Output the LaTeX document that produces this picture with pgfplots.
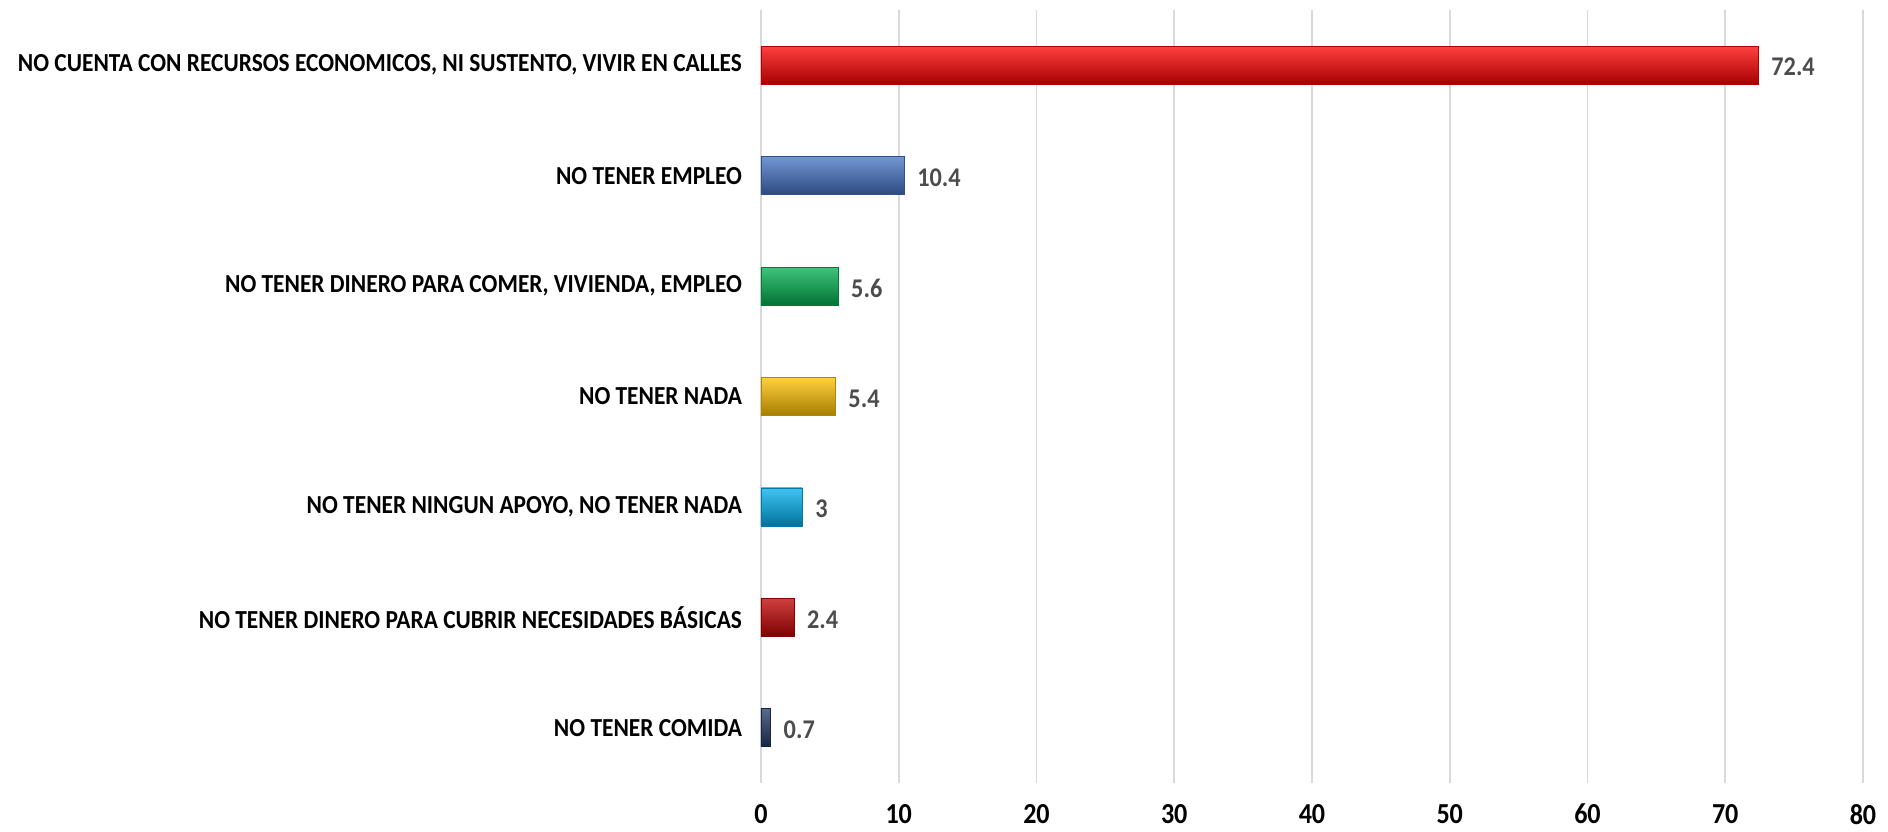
\documentclass[border=0pt]{standalone}
\usepackage{pgfplots}
\pgfplotsset{compat=1.18}
\usepackage{fontspec}
\setmainfont[FakeStretch=0.9]{Carlito}
\definecolor{cRed}{HTML}{FF0000}
\definecolor{cBlue}{HTML}{4472C4}
\definecolor{cGreen}{HTML}{00B050}
\definecolor{cGold}{HTML}{FFC000}
\definecolor{cCyan}{HTML}{00B0F0}
\definecolor{cDRed}{HTML}{C00000}
\definecolor{cNavy}{HTML}{203864}
\begin{document}
\begin{tikzpicture}
\useasboundingbox (-380.5pt,-24pt) rectangle (563.5pt,391.5pt);
\begin{axis}[at={(0,0)}, anchor=south west, scale only axis,
  width=551pt, height=386.5pt,
  xmin=0, xmax=80, ymin=-0.5, ymax=6.5,
  xtick={0,10,...,80}, ytick={0,...,6},
  yticklabels={NO TENER COMIDA, NO TENER DINERO PARA CUBRIR NECESIDADES BÁSICAS, {NO TENER NINGUN APOYO, NO TENER NADA}, NO TENER NADA, {NO TENER DINERO PARA COMER, VIVIENDA, EMPLEO}, NO TENER EMPLEO, {NO CUENTA CON RECURSOS ECONOMICOS, NI SUSTENTO, VIVIR EN CALLES}},
  xmajorgrids, grid style={draw=black!15, line width=0.8pt},
  axis line style={draw=none}, major tick length=0pt,
  ticklabel style={font=\fontsize{13}{14}\selectfont\bfseries, text=black},
  xticklabel style={font=\fontsize{14.5}{15}\selectfont\bfseries, yshift=-7pt},
  /pgf/number format/assume math mode=true,
  yticklabel style={xshift=-6pt},
  xbar, bar width=19pt, bar shift=0pt,
  nodes near coords,
  nodes near coords style={font=\fontsize{13.5}{14}\selectfont\bfseries, text=black!70, anchor=west, xshift=3pt, yshift=-1pt},
  clip=false,
]
\addplot[draw=cRed!70!black, top color=cRed!75!white, middle color=cRed, bottom color=cRed!65!black] coordinates {(72.4,6)};
\addplot[draw=cBlue!70!black, top color=cBlue!75!white, middle color=cBlue, bottom color=cBlue!65!black] coordinates {(10.4,5)};
\addplot[draw=cGreen!70!black, top color=cGreen!75!white, middle color=cGreen, bottom color=cGreen!65!black] coordinates {(5.6,4)};
\addplot[draw=cGold!70!black, top color=cGold!75!white, middle color=cGold, bottom color=cGold!65!black] coordinates {(5.4,3)};
\addplot[draw=cCyan!70!black, top color=cCyan!75!white, middle color=cCyan, bottom color=cCyan!65!black] coordinates {(3,2)};
\addplot[draw=cDRed!70!black, top color=cDRed!75!white, middle color=cDRed, bottom color=cDRed!65!black] coordinates {(2.4,1)};
\addplot[draw=cNavy!70!black, top color=cNavy!75!white, middle color=cNavy, bottom color=cNavy!65!black] coordinates {(0.7,0)};
\end{axis}
\end{tikzpicture}
\end{document}
